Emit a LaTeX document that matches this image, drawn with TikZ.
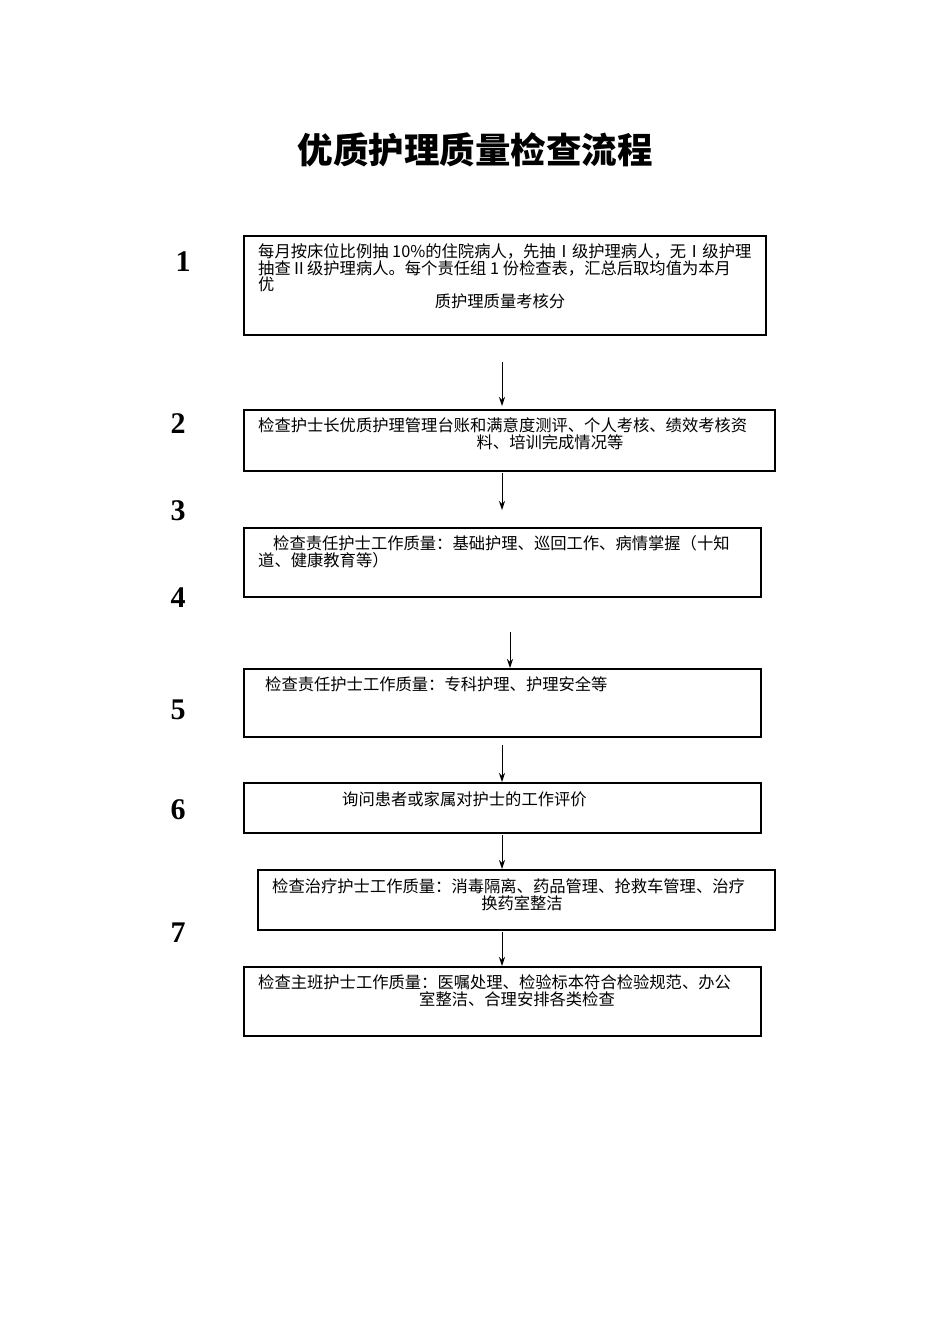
\documentclass[tikz,border=0pt]{standalone}
\usepackage{fontspec}
\setmainfont{Liberation Serif}
\newfontfamily\cjk{Noto Sans CJK SC}
\usetikzlibrary{arrows.meta,positioning}
\begin{document}
\begin{tikzpicture}[x=1pt,y=-1pt]
	\tikzstyle{Box}  = [draw, line width=1.1pt, inner sep=0pt]
	\tikzstyle{Txt}  = [anchor=west, inner sep=0pt, font=\cjk\fontsize{16.3}{17}\selectfont]
	\tikzstyle{Mid}  = [inner sep=0pt, font=\cjk\fontsize{16.3}{17}\selectfont]
	\tikzstyle{Num}  = [inner sep=0pt, font=\bfseries\fontsize{30}{32}\selectfont]
	\tikzstyle{Flow} = [-{Stealth[length=9pt,width=6pt]}, line width=1pt]

	\useasboundingbox (0,0) rectangle (950,1344);
	\node at (475,150) [inner sep=0pt, font=\cjk\bfseries\fontsize{35.5}{38}\selectfont] {优质护理质量检查流程};

	% boxes
	\draw[Box] (244,236) rectangle (766,335);
	\draw[Box] (244,410) rectangle (775,471);
	\draw[Box] (244,528) rectangle (761,597);
	\draw[Box] (244,669) rectangle (761,737);
	\draw[Box] (244,783) rectangle (761,833);
	\draw[Box] (258,870) rectangle (775,930);
	\draw[Box] (244,967) rectangle (761,1036);

	% texts
	\node (t1a) at (258,251) [Txt] {每月按床位比例抽 10\%的住院病人，先抽Ⅰ级护理病人，无Ⅰ级护理};
	\node (t1b) at (258,268) [Txt] {抽查Ⅱ级护理病人。每个责任组 1 份检查表，汇总后取均值为本月};
	\node (t1c) at (258,284) [Txt] {优};
	\node (t1d) at (500,301) [Mid] {质护理质量考核分};
	\node (t2a) at (258,425) [Txt] {检查护士长优质护理管理台账和满意度测评、个人考核、绩效考核资};
	\node (t2b) at (550,442) [Mid] {料、培训完成情况等};
	\node (t3a) at (273,543) [Txt] {检查责任护士工作质量：基础护理、巡回工作、病情掌握（十知};
	\node (t3b) at (258,560) [Txt] {道、健康教育等）};
	\node (t4)  at (265,684) [Txt] {检查责任护士工作质量：专科护理、护理安全等};
	\node (t5)  at (342,799) [Txt] {询问患者或家属对护士的工作评价};
	\node (t6a) at (272,886) [Txt] {检查治疗护士工作质量：消毒隔离、药品管理、抢救车管理、治疗};
	\node (t6b) at (522,903) [Mid] {换药室整洁};
	\node (t7a) at (258,982) [Txt] {检查主班护士工作质量：医嘱处理、检验标本符合检验规范、办公};
	\node (t7b) at (517,999) [Mid] {室整洁、合理安排各类检查};

	% step numbers
	\foreach \n/\x/\y in {1/183/262, 2/178/424, 3/178/511, 4/178/598, 5/178/710, 6/178/810, 7/178/933}
		\node (n\n) at (\x,\y) [Num] {\n};

	% arrows
	\coordinate (a1) at (502,362); \coordinate (b1) at (502,406);
	\coordinate (a2) at (502,473); \coordinate (b2) at (502,510);
	\coordinate (a3) at (510,632); \coordinate (b3) at (510,668);
	\coordinate (a4) at (502,745); \coordinate (b4) at (502,782);
	\coordinate (a5) at (502,835); \coordinate (b5) at (502,869);
	\coordinate (a6) at (502,932); \coordinate (b6) at (502,966);
	\foreach \i in {1,...,6}
		\draw[Flow] (a\i) -- (b\i);
\end{tikzpicture}
\end{document}
